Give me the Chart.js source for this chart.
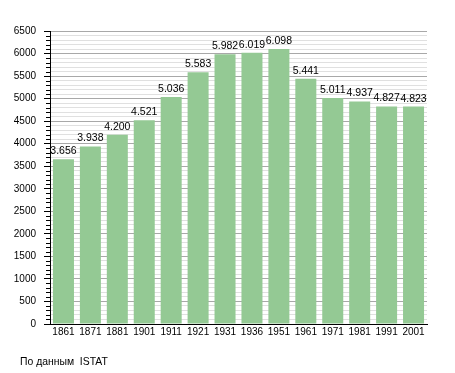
<!DOCTYPE html>
<html>
<head>
<meta charset="utf-8">
<script src="https://cdn.jsdelivr.net/npm/chart.js@4/dist/chart.umd.min.js"></script>
<style>
  body { margin: 0; background: #fff; }
  #wrap { position: relative; width: 455px; height: 373px; }
  #source {
    position: absolute; left: 20px; top: 355px;
    font: 10.4px "Liberation Sans", Arial, sans-serif; color: #000;
    white-space: pre; line-height: 13px;
  }
</style>
</head>
<body>
<div id="wrap">
  <canvas id="chart" width="455" height="373"></canvas>
  <div id="source">По данным  ISTAT</div>
</div>
<script>
// ---- data ----
const years = ["1861", "1871", "1881", "1901", "1911", "1921", "1931", "1936", "1951", "1961", "1971", "1981", "1991", "2001"];
const population = [3656, 3938, 4200, 4521, 5036, 5583, 5982, 6019, 6098, 5441, 5011, 4937, 4827, 4823];
const yMax = 6500;
const majorStep = 500;
const minorStep = 100;

const FONT = "'Liberation Sans', Arial, sans-serif";

// italian style thousands: 3656 -> 3.656
function fmt(v) {
  return String(v).replace(/\B(?=(\d{3})+(?!\d))/g, ".");
}

// values above bars
const barLabels = {
  id: "barLabels",
  afterDatasetsDraw(chart) {
    const ctx = chart.ctx;
    const meta = chart.getDatasetMeta(0);
    ctx.save();
    ctx.font = "10.5px " + FONT;
    ctx.fillStyle = "#000";
    ctx.textAlign = "center";
    ctx.textBaseline = "alphabetic";
    meta.data.forEach((bar, i) => {
      ctx.fillText(fmt(population[i]), bar.x, bar.y - 5);
    });
    ctx.restore();
  }
};

// short minor ticks on the y axis
const minorTicks = {
  id: "minorTicks",
  afterDraw(chart) {
    const ctx = chart.ctx;
    const y = chart.scales.y;
    const x0 = chart.chartArea.left;
    ctx.save();
    ctx.strokeStyle = "#000";
    ctx.lineWidth = 1;
    y.ticks.forEach(t => {
      if (t.value % majorStep === 0) return;
      const py = Math.round(y.getPixelForValue(t.value)) + 0.5;
      ctx.beginPath();
      ctx.moveTo(x0 - 4, py);
      ctx.lineTo(x0, py);
      ctx.stroke();
    });
    ctx.restore();
  }
};

new Chart(document.getElementById("chart"), {
  type: "bar",
  data: {
    labels: years,
    datasets: [{
      data: population,
      backgroundColor: "#94c994",
      borderWidth: 0,
      barPercentage: 0.78,
      categoryPercentage: 1
    }]
  },
  options: {
    responsive: false,
    animation: false,
    layout: { padding: { top: 31, right: 28, bottom: 29, left: 0 } },
    plugins: {
      legend: { display: false },
      tooltip: { enabled: false }
    },
    scales: {
      x: {
        afterFit: s => { s.height = 20; },
        grid: { display: false, drawTicks: false },
        border: { display: true, color: "#000", width: 1 },
        ticks: {
          color: "#000",
          padding: 2,
          maxRotation: 0,
          autoSkip: false,
          font: { family: FONT, size: 10 }
        }
      },
      y: {
        min: 0,
        max: yMax,
        afterFit: s => { s.width = 50; },
        border: { display: true, color: "#000", width: 1 },
        grid: {
          color: c => (c.tick && c.tick.value % majorStep === 0) ? "#a8a8a8" : "#e0e0e0",
          drawTicks: true,
          tickLength: 6,
          tickColor: c => (c.tick && c.tick.value % majorStep === 0) ? "#000" : "rgba(0,0,0,0)"
        },
        ticks: {
          stepSize: minorStep,
          autoSkip: false,
          color: "#000",
          padding: 8,
          font: { family: FONT, size: 10 },
          callback: v => (v % majorStep === 0 ? v : "")
        }
      }
    }
  },
  plugins: [barLabels, minorTicks]
});
</script>
</body>
</html>
